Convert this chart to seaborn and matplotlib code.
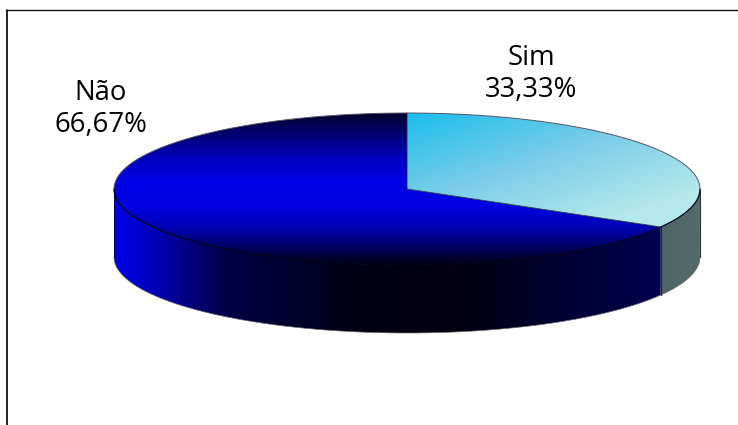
import numpy as np
import pandas as pd
import seaborn as sns
import matplotlib.pyplot as plt
from matplotlib.colors import LinearSegmentedColormap
from matplotlib.patches import PathPatch
from matplotlib.path import Path

categories = ['Sim', 'Não']
values = [33.33, 66.67]
value_labels = ['33,33%', '66,67%']

sns.set_theme(style="white")
plt.rcParams['font.family'] = ['Open Sans', 'DejaVu Sans']

W, H = 738, 425
CX, CY, RX, RY = 407, 189, 293, 76
DEPTH = 68 / RY

df = pd.DataFrame({'Category': categories, 'Value': values, 'Label': value_labels})

fig = plt.figure(figsize=(W / 100, H / 100), dpi=100, facecolor='white')
ax = fig.add_axes([0, 0, 1, 1])

# one unit on each axis is one pie radius, so the circle turns into the ellipse
wedges, _ = ax.pie(df['Value'], startangle=90, counterclock=False, radius=1,
                   colors=['none', 'none'], wedgeprops={'linewidth': 0})
ax.set_aspect('auto')
xlim = ((0 - CX) / RX, (W - CX) / RX)
ylim = ((CY - H) / RY, CY / RY)
ax.set_xlim(xlim)
ax.set_ylim(ylim)
ax.axis('off')
extent = [xlim[0], xlim[1], ylim[0], ylim[1]]

# angle where the first slice ends, measured like the pie does
end_angle = np.deg2rad(90 - df['Value'][0] / df['Value'].sum() * 360)


def wall_path(a0, a1):
    t = np.linspace(a0, a1, 200)
    x, y = np.cos(t), np.sin(t)
    xs = np.concatenate([x, x[::-1], x[:1]])
    ys = np.concatenate([y, y[::-1] - DEPTH, y[:1]])
    return Path(np.column_stack([xs, ys]))


def gradient(img, cmap, path_or_patch):
    im = ax.imshow(img, extent=extent, cmap=cmap, vmin=0, vmax=1, aspect='auto',
                   origin='upper', interpolation='bilinear', zorder=1)
    im.set_clip_path(path_or_patch)


px_x = np.linspace(0, W, W)
px_y = np.linspace(0, H, H)
gx, gy = np.meshgrid(px_x, px_y)

# side wall, dark slice then grey slice
wall_cmap = LinearSegmentedColormap.from_list('wall', [
    (0.0, '#0000e6'), (0.05, '#0000c8'), (0.2, '#00004a'), (0.42, '#000018'),
    (0.62, '#00000f'), (0.85, '#000038'), (1.0, '#000050')])
wall_img = np.clip((gx - 114) / (660 - 114), 0, 1)
p_dark = PathPatch(wall_path(np.pi, 2 * np.pi + end_angle), transform=ax.transData, fc='none', lw=0)
ax.add_patch(p_dark)
gradient(wall_img, wall_cmap, p_dark)

grey_cmap = LinearSegmentedColormap.from_list('grey', ['#4f6466', '#546a6c'])
p_grey = PathPatch(wall_path(end_angle, 0), transform=ax.transData, fc='none', lw=0)
ax.add_patch(p_grey)
gradient(np.clip((gx - 660) / 40, 0, 1), grey_cmap, p_grey)

# top faces
top_cmap = LinearSegmentedColormap.from_list('top', [
    (0.0, '#00002c'), (0.12, '#00006a'), (0.3, '#0000c0'), (0.45, '#0000e8'),
    (0.62, '#0000e0'), (0.78, '#0000a8'), (0.92, '#00004a'), (1.0, '#000012')])
gradient(np.clip((gy - 113) / 152, 0, 1), top_cmap, wedges[1])

sim_cmap = LinearSegmentedColormap.from_list('sim', ['#1bbdec', '#78cce9', '#b5e8ea'])
sim_img = np.clip(((gx - 407) * 0.55 + (gy - 113) * 1.6) / 285, 0, 1)
gradient(sim_img, sim_cmap, wedges[0])

# outlines
t = np.linspace(0, np.pi, 200)
ax.plot(np.cos(t), np.sin(t), color='#555566', lw=0.7, zorder=3)
t2 = np.linspace(np.pi, 2 * np.pi, 200)
ax.plot(np.cos(t2), np.sin(t2), color='#000018', lw=0.9, zorder=3)
ax.plot(np.cos(t2), np.sin(t2) - DEPTH, color='#666666', lw=0.5, zorder=3)
ax.plot([-1, -1], [0, -DEPTH], color='#000040', lw=0.6, zorder=3)
ax.plot([1, 1], [0, -DEPTH], color='#333333', lw=0.8, zorder=3)
ex, ey = np.cos(end_angle), np.sin(end_angle)
ax.plot([0, 0, ex], [1, 0, ey], color='#22303a', lw=0.6, zorder=3)
ax.plot([ex, ex], [ey, ey - DEPTH], color='#222233', lw=0.8, zorder=3)

# chart frame, open at the bottom
ax.plot([(7 - CX) / RX, xlim[1]], [(CY - 10) / RY, (CY - 10) / RY],
        color='#111111', lw=1.0, zorder=4, clip_on=False)
ax.plot([(7 - CX) / RX, (7 - CX) / RX], [ylim[0], (CY - 10) / RY],
        color='#111111', lw=1.3, zorder=4, clip_on=False)

# labels, placed with axes fractions from the reference
pos = {'Sim': (531 / W, 1 - 74 / H), 'Não': (101 / W, 1 - 109 / H)}
for _, row in df.iterrows():
    ax.text(*pos[row['Category']], row['Category'] + '\n' + row['Label'], transform=ax.transAxes,
            ha='center', va='center', fontsize=19.8, color='black', linespacing=1.17, zorder=5)

fig.savefig('out.png', dpi=100)
